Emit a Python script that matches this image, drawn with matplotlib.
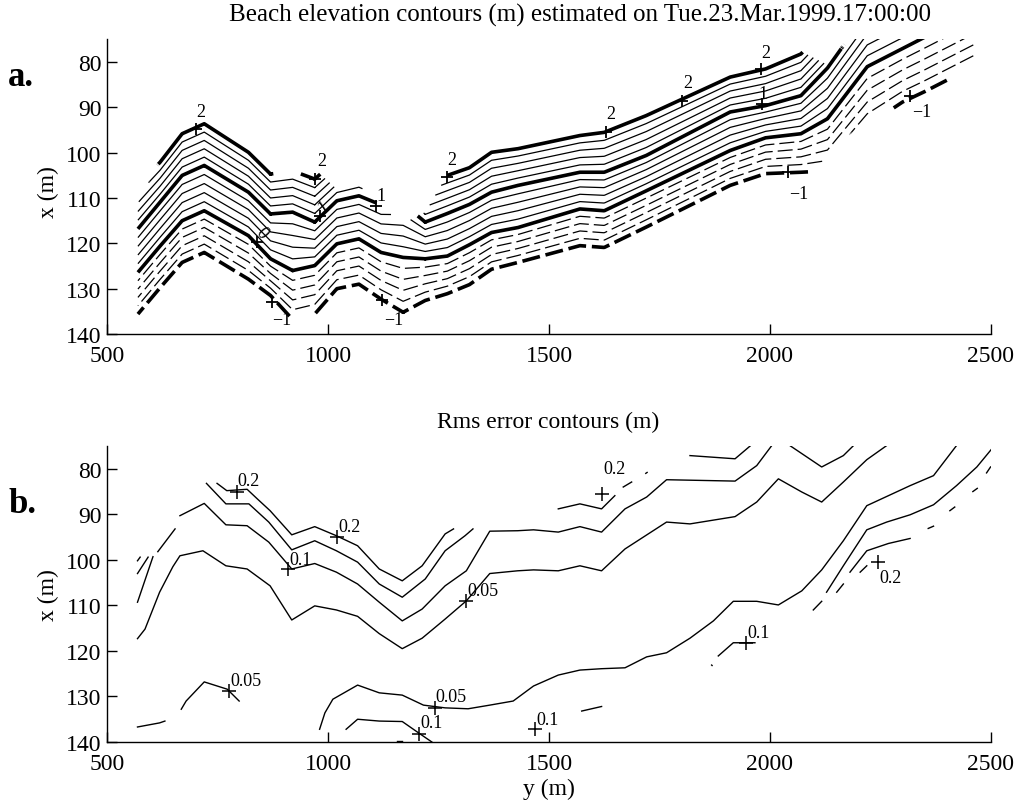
import numpy as np
import matplotlib
matplotlib.use('Agg')
import matplotlib.pyplot as plt

plt.rcParams['font.family'] = ['Liberation Serif', 'DejaVu Serif']

# ---- panel a: cross-shore position (m) of the integer elevation contours at alongshore stations
cols = [570, 620, 670, 720, 820, 870, 920, 970, 1020, 1070, 1120, 1170, 1220, 1270, 1320,
        1370, 1430, 1570, 1625, 1720, 1910, 1990, 2070, 2130, 2220, 2300, 2350, 2460]
x_lev2 = [107.2, 102.1, 95.8, 93.6, 99.9, 104.7, 104.0, 105.8, 101.5, 100.0, 102.5, 101.0, 106.8, 105.0,
          103.3, 99.9, 99.1, 96.2, 95.5, 91.8, 83.3, 81.5, 78.2, 72.0, 57.0, 55.0, 52.0, 48.0]
x_lev1 = [116.8, 110.9, 105.0, 102.8, 108.7, 113.5, 113.1, 115.3, 110.6, 109.5, 111.5, 111.3, 115.3, 113.4,
          111.4, 108.7, 107.2, 104.3, 104.3, 100.6, 91.0, 89.6, 87.4, 81.3, 69.0, 65.0, 62.5, 57.0]
x_lev0 = [126.4, 120.6, 115.0, 112.8, 118.3, 123.4, 126.0, 124.9, 120.1, 119.0, 122.0, 123.1, 123.4, 122.8,
          120.3, 117.6, 116.5, 112.4, 112.8, 108.4, 99.5, 96.7, 95.8, 92.5, 81.0, 77.0, 74.5, 69.0]
x_levm1 = [135.6, 129.8, 124.2, 122.0, 127.9, 131.5, 136.8, 135.6, 130.0, 129.0, 132.3, 135.2, 132.6, 131.1,
           129.1, 125.7, 124.2, 120.5, 120.9, 116.4, 107.2, 104.6, 104.3, 104.0, 94.0, 88.8, 86.5, 81.0]
# limits of the surveyed area at each station
x_top = [111.0, 101.5, 95.5, 93.0, 99.5, 104.5, 105.3, 103.5, 108.0, 107.0, 112.0, 115.5, 113.0, 104.7,
         102.5, 99.5, 98.8, 95.8, 95.0, 91.0, 83.0, 81.0, 77.5, 80.5, 70.0, 70.0, 70.0, 70.0]
x_bot = [136.5, 140, 140, 140, 140, 140, 135.5, 135.8, 140, 140, 140, 140, 140, 140, 140,
         140, 140, 140, 140, 140, 140, 140, 105.5, 101.0, 92.0, 89.5, 88.0, 79.5]

a_plus = [(701, 94.7), (970, 105.8), (982, 114.0), (1108, 111.7), (840, 119.8), (873, 133.0),
          (1123, 132.6), (1269, 105.4), (1630, 95.5), (1802, 88.5), (1980, 81.5), (1981, 89.2),
          (2041, 104.3), (2317, 87.4)]
a_text = ['2', '2', '1', '1', '0', '\u22121', '\u22121', '2', '2', '2', '2', '1', '\u22121', '\u22121']
a_text_pos = [(713, 91.0), (985, 101.7), (989, 111.8), (1119, 109.5), (851, 117.5), (896, 136.7),
              (1149, 136.7), (1280, 101.4), (1640, 91.4), (1814, 84.4), (1990, 77.8), (1985, 87.0),
              (2066, 109.1), (2344, 91.0)]
a_text_rot = [0, 0, 35, 0, -50, 0, 0, 0, 0, 0, 0, 0, 0, 0]

# ---- panel b: rms error contour lines (y, x), nan = gap
b_lines = [
    ([749, 771, 817, 840, 869, 918, 970, 1019, 1067, 1116, 1168, 1213, 1265, 1284],
     [83.2, 84.8, 84.5, 86.6, 89.2, 94.5, 92.7, 94.7, 96.9, 102.0, 104.6, 101.3, 94.3, 93.2]),
    ([725, 769, 821, 866, 918, 970, 1019, 1067, 1116, 1168, 1220, 1265, 1310, 1328],
     [83.2, 87.7, 87.7, 91.7, 97.8, 95.8, 98.0, 100.5, 105.3, 108.2, 104.2, 98.0, 94.7, 93.2]),
    ([665, 720, 769, 817, 866, 918, 970, 1019, 1067, 1116, 1168, 1213, 1265, 1313, 1366, 1429, 1465,
      1521, 1570, 1619, 1672, 1721, 1766, 1921, 1970, 2004],
     [90.3, 87.6, 92.3, 92.5, 96.1, 102.0, 100.8, 102.7, 105.3, 109.3, 113.4, 110.8, 105.7, 102.4, 93.7,
      93.6, 93.4, 93.9, 92.7, 93.9, 88.8, 86.2, 82.4, 82.7, 79.3, 74.9]),
    ([569, 586, 619, 649, 665, 717, 769, 817, 869, 918, 970, 1019, 1067, 1116, 1168, 1213, 1265, 1313,
      1366, 1429, 1465, 1521, 1570, 1619, 1672, 1766, 1819, 1921, 1970, 2019, 2072, 2117, 2166, 2219, 2264],
     [117.3, 115.2, 107.1, 101.5, 99.1, 98.0, 101.3, 102.0, 105.7, 113.2, 110.1, 111.0, 112.4, 116.2,
      119.5, 117.2, 113.0, 109.0, 103.0, 102.4, 102.2, 102.4, 101.3, 102.4, 97.6, 91.7, 92.1, 90.5, 87.3,
      82.2, 85.1, 87.3, 82.9, 78.0, 74.9]),
    ([654, 615, np.nan, 604, 569], [93.2, 98.2, np.nan, 99.3, 109.3]),
    ([593, 569], [99.4, 103.0]),
    ([575, 569], [99.4, 100.2]),
    ([569, 619, 631, np.nan, 668, 679, 720, 772, 799],
     [136.7, 135.8, 135.4, np.nan, 132.8, 131.0, 126.8, 128.4, 131.0]),
    ([981, 993, 1011, 1067, 1116, 1168, 1216, 1265, 1317, 1366, 1419, 1465, 1521, 1570, 1619, 1672,
      1721, 1766, 1819, 1872, 1917, 1970, 2019, 2072, 2117, 2166, 2219, 2268, 2317, 2370, 2422],
     [137.2, 133.6, 130.6, 127.5, 129.2, 129.7, 131.9, 132.5, 132.7, 131.9, 131.0, 127.7, 125.3, 124.2,
      123.9, 123.7, 121.3, 120.4, 117.2, 113.4, 109.1, 109.1, 109.9, 106.8, 102.2, 95.8, 88.1, 85.9,
      83.7, 81.5, 74.9]),
    ([1041, 1067, 1116, 1168, 1205, 1235], [137.2, 135.0, 135.4, 135.5, 138.0, 140.0]),
    ([1157, 1168], [139.8, 139.8]),
    ([1819, 1921, 1955], [77.1, 77.8, 75.0]),
    ([1521, 1570, 1619, 1649, np.nan, 1668, 1687, np.nan, 1719, 1722],
     [88.8, 87.7, 88.8, 85.9, np.nan, 84.0, 82.9, np.nan, 81.0, 80.8]),
    ([2045, 2117, 2166, 2189], [74.9, 79.6, 77.1, 74.9]),
    ([2128, 2166, 2219, 2264, 2317, 2370, 2422, 2468, 2502],
     [107.1, 101.3, 93.4, 91.7, 90.1, 87.9, 83.7, 79.6, 75.6]),
    ([2181, 2219, 2268, 2317], [102.7, 98.0, 96.4, 95.3]),
    ([2098, 2117, np.nan, 2151, 2166, np.nan, 2204, 2219],
     [111.0, 109.1, np.nan, 107.1, 105.3, np.nan, 102.7, 101.3]),
    ([2358, 2370, np.nan, 2407, 2418, np.nan, 2459, 2469, np.nan, 2490, 2499],
     [93.1, 92.6, np.nan, 89.2, 88.4, np.nan, 85.0, 84.3, np.nan, 80.9, 79.6]),
    ([1868, 1869, np.nan, 1883, 1917, 1966], [123.1, 123.2, np.nan, 121.1, 118.2, 118.2]),
    ([1574, 1619], [133.2, 132.2]),
]

b_plus = [(793, 85.0), (1021, 95.0), (910, 102.0), (1313, 109.0), (776, 128.9), (1241, 132.5),
          (1207, 138.2), (1619, 85.5), (1945, 118.2), (2245, 100.5), (1468, 137.2)]
b_text = ['0.2', '0.2', '0.1', '0.05', '0.05', '0.05', '0.1', '0.2', '0.1', '0.2', '0.1']
b_text_pos = [(796, 82.5), (1024, 92.7), (913, 100.0), (1316, 106.8), (779, 126.6), (1244, 130.1),
              (1210, 135.8), (1622, 80.0), (1948, 116.0), (2248, 103.8), (1471, 135.0)]

levels = np.round(np.arange(-1.0, 2.01, 0.2), 1)

fig = plt.figure(figsize=(10.21, 8.03), dpi=100)
ax1 = fig.add_axes([0.1048, 0.5828, 0.8658, 0.3668])
ax2 = fig.add_axes([0.1048, 0.0747, 0.8658, 0.3686])

# elevation field from the contour positions, piecewise linear across shore
yy = np.arange(570, 2461, 2.0)
xx = np.arange(68, 141, 0.1)
L2 = np.interp(yy, cols, x_lev2)
L1 = np.interp(yy, cols, x_lev1)
L0 = np.interp(yy, cols, x_lev0)
Lm = np.interp(yy, cols, x_levm1)
T = np.interp(yy, cols, x_top)
B = np.interp(yy, cols, x_bot)
X = xx[:, None]
Z = np.where(X < L1, 1 + (L1 - X) / (L1 - L2),
             np.where(X < L0, (L0 - X) / (L0 - L1), -(X - L0) / (Lm - L0)))
Z = np.ma.masked_where((X < T) | (X > B), Z)

for lev in levels:
    thick = abs(lev - round(lev)) < 1e-6
    cs = ax1.contour(yy, xx, Z, levels=[lev], colors='k',
                     linewidths=2.6 if thick else 0.9)
    if lev < 0:
        cs.set_linestyle((0, (5, 1.6)) if thick else (0, (12, 4)))

ax1.plot([p[0] for p in a_plus], [p[1] for p in a_plus], '+', color='k', ms=9, mew=1.3, ls='none')
for t, (yp, xp), r in zip(a_text, a_text_pos, a_text_rot):
    ax1.text(yp, xp, t, ha='center', va='center', fontsize=13, rotation=r)

for ys, xs in b_lines:
    ax2.plot(ys, xs, color='k', lw=1.0)
ax2.plot([p[0] for p in b_plus], [p[1] for p in b_plus], '+', color='k', ms=10, mew=1.1, ls='none')
for t, (yp, xp) in zip(b_text, b_text_pos):
    ax2.text(yp, xp, t, ha='left', va='center', fontsize=13)

for ax in (ax1, ax2):
    ax.set_xlim(500, 2500)
    ax.set_ylim(140, 75)
    ax.set_xticks([500, 1000, 1500, 2000, 2500])
    ax.set_yticks([80, 90, 100, 110, 120, 130, 140])
    ax.spines['top'].set_visible(False)
    ax.spines['right'].set_visible(False)
    ax.spines['left'].set_linewidth(1.0)
    ax.spines['bottom'].set_linewidth(1.0)
    ax.tick_params(direction='in', length=7, width=1.0, labelsize=17)
    ax.tick_params(axis='x', pad=8)
    ax.tick_params(axis='y', pad=4)

fig.text(0.568, 0.981, 'Beach elevation contours (m) estimated on Tue.23.Mar.1999.17:00:00',
         ha='center', va='center', fontsize=18)
fig.text(0.537, 0.4745, 'Rms error contours (m)', ha='center', va='center', fontsize=17)
fig.text(0.047, 0.761, 'x (m)', rotation=90, ha='center', va='center', fontsize=17)
fig.text(0.047, 0.259, 'x (m)', rotation=90, ha='center', va='center', fontsize=17)
fig.text(0.5377, 0.0174, 'y (m)', ha='center', va='center', fontsize=17)
fig.text(0.008, 0.903, 'a.', ha='left', va='center', fontsize=25, fontweight='bold')
fig.text(0.008, 0.372, 'b.', ha='left', va='center', fontsize=25, fontweight='bold')

fig.savefig('out.png', dpi=100)
